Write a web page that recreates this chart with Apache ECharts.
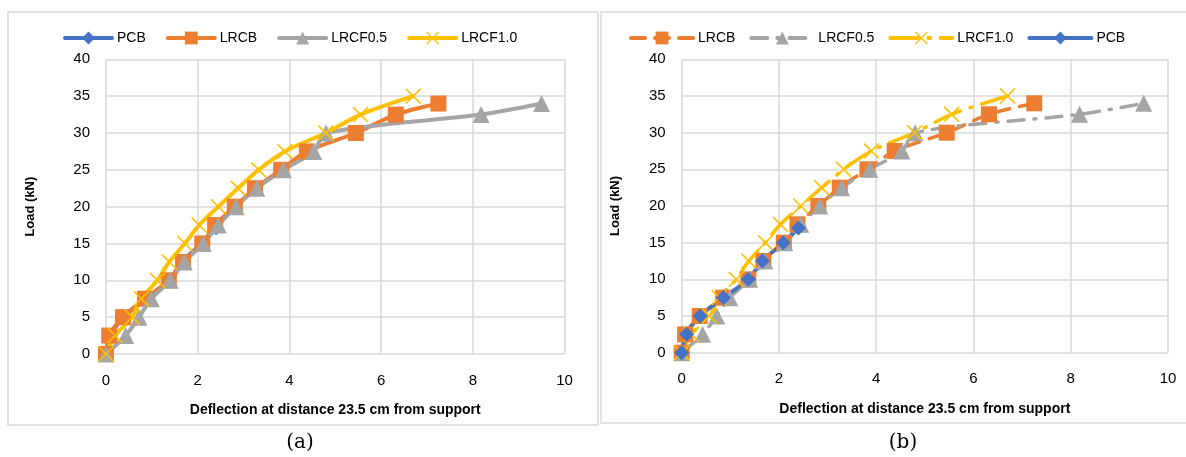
<!DOCTYPE html>
<html>
<head>
<meta charset="utf-8">
<script src="https://cdn.jsdelivr.net/npm/echarts@6/dist/echarts.min.js"></script>
<style>
html,body{margin:0;padding:0;background:#fff;}
#c{width:1186px;height:457px;}
</style>
</head>
<body>
<div id="c"></div>
<script>
// ---- data (deflection at 23.5 cm from support, load in kN) ----
const pcbLoad   = [0, 2.5, 5, 7.5, 10, 12.5, 15, 17];
const pcbDefl   = [0, 0.10, 0.38, 0.86, 1.37, 1.66, 2.09, 2.40];
const lrcbLoad  = [0, 2.5, 5, 7.5, 10, 12.5, 15, 17.5, 20, 22.5, 25, 27.5, 30, 32.5, 34];
const lrcbDefl  = [0, 0.07, 0.37, 0.85, 1.37, 1.68, 2.10, 2.38, 2.81, 3.25, 3.82, 4.38, 5.45, 6.32, 7.25];
const f05Load   = [0, 2.5, 5, 7.5, 10, 12.5, 15, 17.5, 20, 22.5, 25, 27.5, 30, 32.5, 34];
const f05Defl   = [0, 0.43, 0.72, 0.99, 1.40, 1.71, 2.12, 2.45, 2.84, 3.29, 3.87, 4.53, 4.80, 8.18, 9.50];
const f10Load   = [0, 2.5, 5, 7.5, 10, 12.5, 15, 17.5, 20, 22.5, 25, 27.5, 30, 32.5, 35];
const f10Defl   = [0, 0.20, 0.57, 0.77, 1.12, 1.38, 1.72, 2.03, 2.45, 2.88, 3.33, 3.90, 4.79, 5.55, 6.70];
const xTicks = [0, 2, 4, 6, 8, 10];
const yTicks = [0, 5, 10, 15, 20, 25, 30, 35, 40];

const zip = (xs, ys) => xs.map((x, i) => [x, ys[i]]);
const C = {pcb:'#4472C4', lrcb:'#ED7D31', f05:'#A5A5A5', f10:'#FFC000'};
const crossPath = 'path://M0,7L7,0L50,43L93,0L100,7L57,50L100,93L93,100L50,57L7,100L0,93L43,50Z';
const FONT = 'Liberation Sans';

function xAxis(gi){
  return {type:'value', gridIndex:gi, min:xTicks[0], max:xTicks[xTicks.length-1], interval:2,
    name:'Deflection at distance 23.5 cm from support', nameLocation:'middle', nameGap:49,
    nameTextStyle:{fontFamily:FONT, fontWeight:'bold', fontSize:14, color:'#000'},
    axisLine:{show:false}, axisTick:{show:false},
    axisLabel:{fontFamily:FONT, fontSize:15, color:'#000', margin:19},
    splitLine:{show:true, lineStyle:{color:'#d9d9d9', width:1.5}}};
}
function yAxis(gi, gap){
  return {type:'value', gridIndex:gi, min:yTicks[0], max:yTicks[yTicks.length-1], interval:5,
    name:'Load (kN)', nameLocation:'middle', nameGap:gap, nameRotate:90,
    nameTextStyle:{fontFamily:FONT, fontWeight:'bold', fontSize:13, color:'#000'},
    axisLine:{show:false}, axisTick:{show:false},
    axisLabel:{fontFamily:FONT, fontSize:15, color:'#000', margin:16},
    splitLine:{show:true, lineStyle:{color:'#d9d9d9', width:1.5}}};
}
function ser(name, data, color, symbol, size, gi, dash, width){
  return {type:'line', name:name, xAxisIndex:gi, yAxisIndex:gi, data:data, smooth:0.3,
    symbol:symbol, symbolSize:size, showAllSymbol:true,
    lineStyle:{color:color, width:width, type:dash || 'solid', cap:'round'},
    itemStyle:{color:color}, emphasis:{disabled:true}, animation:false};
}

const pcb = zip(pcbDefl, pcbLoad), lrcb = zip(lrcbDefl, lrcbLoad),
      f05 = zip(f05Defl, f05Load), f10 = zip(f10Defl, f10Load);

const option = {
  animation:false,
  grid:[
    {left:106, right:1186-564.5, top:59.3, bottom:457-354},
    {left:681.7, right:1186-1168, top:59.3, bottom:457-352.7}
  ],
  xAxis:[xAxis(0), xAxis(1)],
  yAxis:[yAxis(0, 69), yAxis(1, 60)],
  legend:[
    {left:58, top:26, itemWidth:47, itemHeight:16, itemGap:20,
     data:['PCB','LRCB','LRCF0.5','LRCF1.0'],
     lineStyle:{width:4},
     textStyle:{fontFamily:FONT, fontSize:14, color:'#000'}},
    {left:624, top:26, itemWidth:62, itemHeight:16, itemGap:14,
     data:['b:LRCB','b:LRCF0.5','b:LRCF1.0','b:PCB'],
     lineStyle:{width:4},
     formatter:n => n.replace('b:',''),
     textStyle:{fontFamily:FONT, fontSize:14, color:'#000'}}
  ],
  series:[
    ser('PCB', pcb, C.pcb, 'diamond', 13, 0, 'solid', 4),
    ser('LRCB', lrcb, C.lrcb, 'rect', 16, 0, 'solid', 4),
    ser('LRCF0.5', f05, C.f05, 'triangle', 17, 0, 'solid', 4),
    ser('LRCF1.0', f10, C.f10, crossPath, 16, 0, 'solid', 4),
    ser('b:LRCB', lrcb, C.lrcb, 'rect', 16, 1, [14,10], 3.5),
    ser('b:LRCF0.5', f05, C.f05, 'triangle', 17, 1, [16,10,2,10], 3.5),
    ser('b:LRCF1.0', f10, C.f10, crossPath, 16, 1, [28,10,2,10], 3.5),
    ser('b:PCB', pcb, C.pcb, 'diamond', 15, 1, 'solid', 4)
  ],
  graphic:[
    {type:'rect', shape:{x:8, y:12, width:590, height:413}, style:{fill:'none', stroke:'#d9d9d9', lineWidth:1.5}, silent:true},
    {type:'rect', shape:{x:601, y:12, width:590, height:411}, style:{fill:'none', stroke:'#d9d9d9', lineWidth:1.5}, silent:true},
    {type:'text', x:300, y:443, style:{text:'(a)', font:'20px "DejaVu Serif"', fill:'#000', textAlign:'center', textVerticalAlign:'middle'}},
    {type:'text', x:903, y:443, style:{text:'(b)', font:'20px "DejaVu Serif"', fill:'#000', textAlign:'center', textVerticalAlign:'middle'}}
  ]
};
const chart = echarts.init(document.getElementById('c'), null, {renderer:'canvas'});
chart.setOption(option);
</script>
</body>
</html>
